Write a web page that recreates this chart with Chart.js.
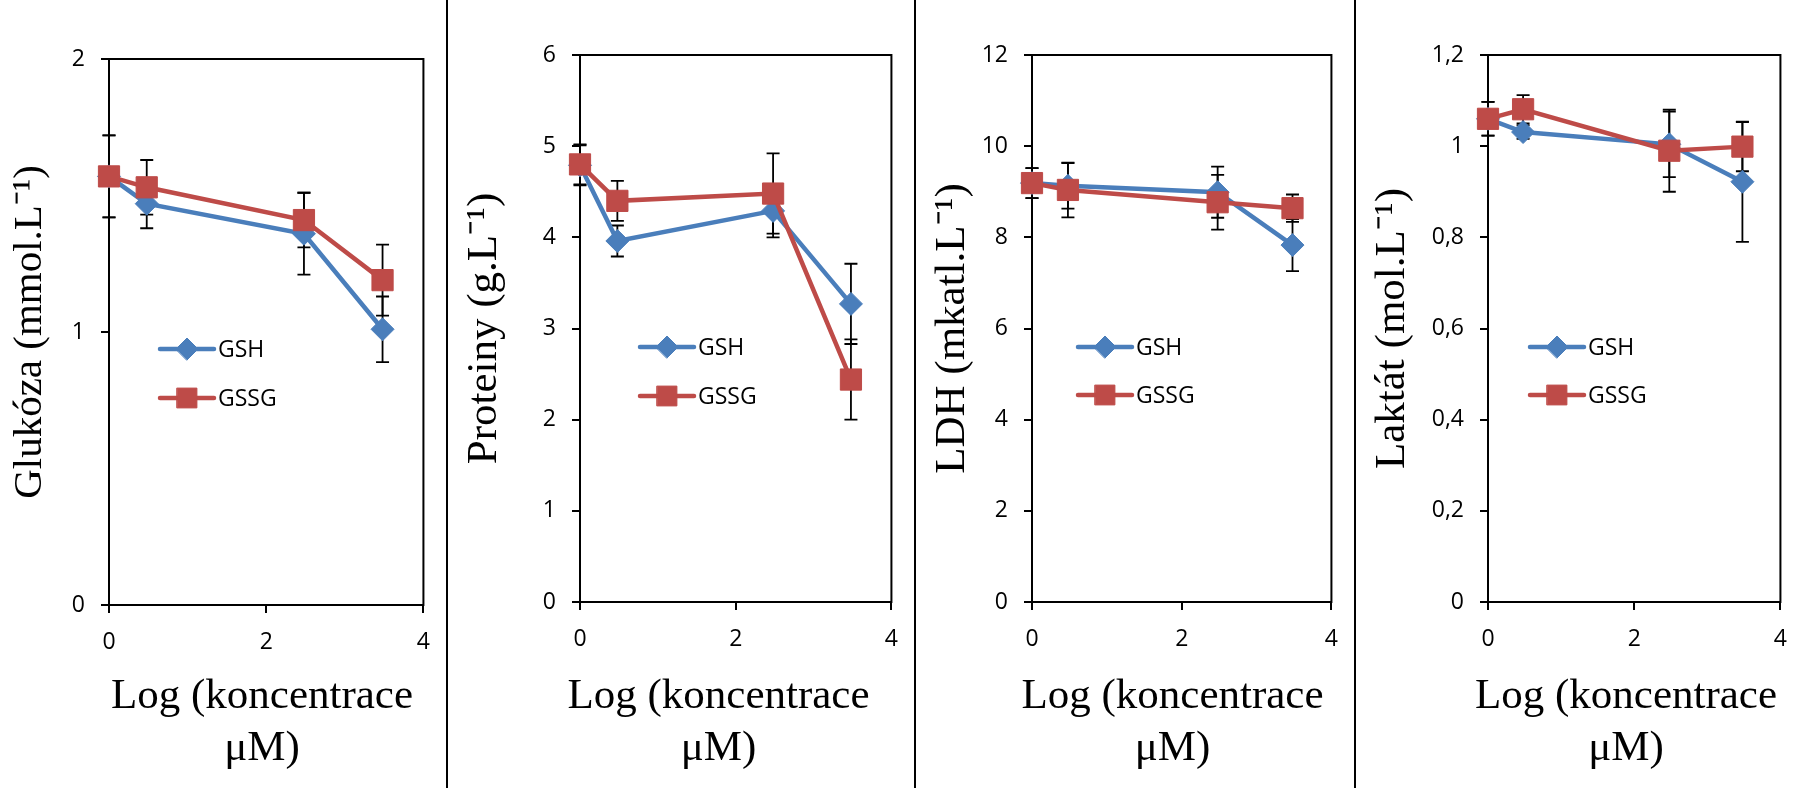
<!DOCTYPE html>
<html><head><meta charset="utf-8">
<script src="https://cdn.jsdelivr.net/npm/chart.js@4/dist/chart.umd.min.js"></script>
<style>
html,body{margin:0;padding:0;background:#fff;}
body{width:1803px;height:788px;position:relative;overflow:hidden;}
.panel{position:absolute;top:0;height:788px;}
.panel canvas{display:block;}
.sep{position:absolute;top:0;width:2px;height:788px;background:#000;}
</style></head><body>
<div class="panel" style="left:0px;width:446px"><canvas id="c1" width="446" height="788"></canvas></div>
<div class="panel" style="left:448px;width:466px"><canvas id="c2" width="466" height="788"></canvas></div>
<div class="panel" style="left:916px;width:438px"><canvas id="c3" width="438" height="788"></canvas></div>
<div class="panel" style="left:1356px;width:447px"><canvas id="c4" width="447" height="788"></canvas></div>
<div class="sep" style="left:446px"></div>
<div class="sep" style="left:914px"></div>
<div class="sep" style="left:1354px"></div>
<script>
// ---- data ----
const logConc = [0, 0.48, 2.48, 3.48];
const xTicks = [0, 2, 4];
const xTickLabels = ['0', '2', '4'];
const seriesNames = ['GSH', 'GSSG'];
const xTitleLines = ['Log (koncentrace', 'μM)'];

const glukozaGSH = [1.57, 1.47, 1.36, 1.01];
const glukozaGSHErr = [0.15, 0.09, 0.15, 0.12];
const glukozaGSSG = [1.57, 1.53, 1.41, 1.19];
const glukozaGSSGErr = [0.15, 0.10, 0.10, 0.13];
const glukozaTicks = [0, 1, 2];
const glukozaTickLabels = ['0', '1', '2'];

const proteinyGSH = [4.79, 3.96, 4.29, 3.27];
const proteinyGSHErr = [0.22, 0.17, 0.29, 0.44];
const proteinyGSSG = [4.80, 4.40, 4.48, 2.44];
const proteinyGSSGErr = [0.22, 0.22, 0.44, 0.44];
const proteinyTicks = [0, 1, 2, 3, 4, 5, 6];
const proteinyTickLabels = ['0', '1', '2', '3', '4', '5', '6'];

const ldhGSH = [9.19, 9.13, 8.99, 7.83];
const ldhGSHErr = [0.33, 0.50, 0.56, 0.57];
const ldhGSSG = [9.19, 9.04, 8.77, 8.64];
const ldhGSSGErr = [0.33, 0.60, 0.60, 0.30];
const ldhTicks = [0, 2, 4, 6, 8, 10, 12];
const ldhTickLabels = ['0', '2', '4', '6', '8', '10', '12'];

const laktatGSH = [1.06, 1.031, 1.004, 0.922];
const laktatGSHErr = [0.037, 0.015, 0.072, 0.132];
const laktatGSSG = [1.06, 1.081, 0.99, 0.999];
const laktatGSSGErr = [0.037, 0.031, 0.09, 0.054];
const laktatTicks = [0, 0.2, 0.4, 0.6, 0.8, 1, 1.2];
const laktatTickLabels = ['0', '0,2', '0,4', '0,6', '0,8', '1', '1,2'];

const yTitles = ['Glukóza (mmol.L\u207B\u00B9)', 'Proteiny (g.L\u207B\u00B9)', 'LDH (mkatl.L\u207B\u00B9)', 'Laktát (mol.L\u207B\u00B9)'];

// ---- styles / layout ----
const BLUE = '#4A7EBB';
const RED = '#BE4B48';
const SANS = 'Open Sans';
const TICK_FONT = {family: SANS, size: 23};
const TITLE_FONT_FAMILY = 'Liberation Serif';

const panels = [
  {id:'c1', w:446, plot:{left:109, top:59, right:427, bottom:605}, yTitle:yTitles[0], yTitlePad:5.5, yTitleSize:41,
   gsh:glukozaGSH, gshErr:glukozaGSHErr, gssg:glukozaGSSG, gssgErr:glukozaGSSGErr,
   ticks:glukozaTicks, tickLabels:glukozaTickLabels, legend:{x:51, y:290, gap:49}, xTitleX:262},
  {id:'c2', w:466, plot:{left:132, top:55, right:450, bottom:602}, yTitle:yTitles[1], yTitlePad:10.7, yTitleSize:43,
   gsh:proteinyGSH, gshErr:proteinyGSHErr, gssg:proteinyGSSG, gssgErr:proteinyGSSGErr,
   ticks:proteinyTicks, tickLabels:proteinyTickLabels, legend:{x:60, y:292, gap:49}, xTitleX:270.5},
  {id:'c3', w:438, plot:{left:116, top:55, right:420, bottom:602}, yTitle:yTitles[2], yTitlePad:10.7, yTitleSize:43,
   gsh:ldhGSH, gshErr:ldhGSHErr, gssg:ldhGSSG, gssgErr:ldhGSSGErr,
   ticks:ldhTicks, tickLabels:ldhTickLabels, legend:{x:46, y:292, gap:48}, xTitleX:256.5},
  {id:'c4', w:447, plot:{left:132, top:55, right:429, bottom:602}, yTitle:yTitles[3], yTitlePad:10.7, yTitleSize:43,
   gsh:laktatGSH, gshErr:laktatGSHErr, gssg:laktatGSSG, gssgErr:laktatGSSGErr,
   ticks:laktatTicks, tickLabels:laktatTickLabels, legend:{x:42, y:292, gap:48}, xTitleX:270}
];

function markerPath(ctx, style, r, x, y) {
  ctx.beginPath();
  if (style === 'rectRot') {
    ctx.moveTo(x - r, y); ctx.lineTo(x, y - r); ctx.lineTo(x + r, y); ctx.lineTo(x, y + r);
  } else {
    const s = r * Math.SQRT1_2;
    ctx.rect(x - s, y - s, 2 * s, 2 * s);
  }
  ctx.closePath();
}

const framePlugin = {
  id: 'frame',
  beforeDatasetsDraw(chart) {
    const {ctx, chartArea: a} = chart;
    ctx.save();
    ctx.strokeStyle = '#000';
    ctx.lineWidth = 2;
    ctx.strokeRect(a.left, a.top, a.right - a.left, a.bottom - a.top);
    ctx.restore();
  }
};

const errorBarPlugin = {
  id: 'errorBars',
  beforeDatasetsDraw(chart) {
    const {ctx} = chart;
    const xs = chart.scales.x, ys = chart.scales.y;
    ctx.save();
    ctx.strokeStyle = '#000';
    ctx.lineWidth = 1.8;
    chart.data.datasets.forEach(ds => {
      ds.data.forEach((pt, i) => {
        const e = ds.errors[i];
        const px = xs.getPixelForValue(pt.x);
        const y1 = ys.getPixelForValue(pt.y + e);
        const y2 = ys.getPixelForValue(pt.y - e);
        ctx.beginPath();
        ctx.moveTo(px, y1); ctx.lineTo(px, y2);
        ctx.moveTo(px - 6.5, y1); ctx.lineTo(px + 6.5, y1);
        ctx.moveTo(px - 6.5, y2); ctx.lineTo(px + 6.5, y2);
        ctx.stroke();
      });
    });
    ctx.restore();
  }
};

const legendPlugin = {
  id: 'inlineLegend',
  afterDatasetsDraw(chart, args, opts) {
    const {ctx, chartArea: a} = chart;
    const L = opts.pos;
    ctx.save();
    chart.data.datasets.forEach((ds, i) => {
      const x0 = a.left + L.x, y = a.top + L.y + i * L.gap;
      ctx.strokeStyle = ds.borderColor;
      ctx.lineWidth = 4.5;
      ctx.lineCap = 'round';
      ctx.beginPath(); ctx.moveTo(x0, y); ctx.lineTo(x0 + 54, y); ctx.stroke();
      ctx.fillStyle = ds.backgroundColor;
      ctx.lineWidth = 1;
      markerPath(ctx, ds.pointStyle, ds.pointStyle === 'rectRot' ? 11 : 14, x0 + 27, y);
      ctx.fill(); ctx.stroke();
      ctx.fillStyle = '#000';
      ctx.font = '23px "' + SANS + '"';
      ctx.textBaseline = 'middle';
      ctx.textAlign = 'left';
      ctx.fillText(ds.label, x0 + 58, y + 1);
    });
    ctx.restore();
  }
};

const xTitlePlugin = {
  id: 'xTitle',
  afterDraw(chart, args, opts) {
    const {ctx} = chart;
    ctx.save();
    ctx.fillStyle = '#000';
    ctx.font = '43px "' + TITLE_FONT_FAMILY + '"';
    ctx.textAlign = 'center';
    ctx.textBaseline = 'alphabetic';
    opts.lines.forEach((t, i) => ctx.fillText(t, opts.x, 708 + i * 52));
    ctx.restore();
  }
};

function makeChart(p) {
  const mk = (vals) => logConc.map((x, i) => ({x: x, y: vals[i]}));
  const datasets = [
    {label: seriesNames[0], data: mk(p.gsh), errors: p.gshErr, borderColor: BLUE, backgroundColor: BLUE,
     pointStyle: 'rectRot', pointRadius: 11.5, pointBorderWidth: 1, pointBorderColor: BLUE, pointBackgroundColor: BLUE,
     borderWidth: 4.5, order: 2, clip: false, tension: 0},
    {label: seriesNames[1], data: mk(p.gssg), errors: p.gssgErr, borderColor: RED, backgroundColor: RED,
     pointStyle: 'rect', pointRadius: 15, pointBorderWidth: 1, pointBorderColor: RED, pointBackgroundColor: RED,
     borderWidth: 4.5, order: 1, clip: false, tension: 0}
  ];
  new Chart(document.getElementById(p.id), {
    type: 'line',
    data: {datasets},
    options: {
      responsive: false, animation: false, devicePixelRatio: 1,
      events: [],
      layout: {padding: {left: 0, top: p.plot.top, right: p.w - p.plot.right, bottom: 0}},
      plugins: {
        legend: {display: false}, tooltip: {enabled: false},
        inlineLegend: {pos: p.legend},
        xTitle: {lines: xTitleLines, x: p.xTitleX}
      },
      scales: {
        x: {
          type: 'linear', min: 0, max: 4,
          afterBuildTicks: s => { s.ticks = xTicks.map(v => ({value: v})); },
          ticks: {font: TICK_FONT, color: '#000', padding: 16, maxRotation: 0, callback: (v, i) => xTickLabels[i]},
          grid: {drawOnChartArea: false, drawTicks: true, tickLength: 8, color: '#000', lineWidth: 2},
          border: {display: false},
          afterFit: s => { s.height = 788 - p.plot.bottom; }
        },
        y: {
          type: 'linear', min: p.ticks[0], max: p.ticks[p.ticks.length - 1],
          afterBuildTicks: s => { s.ticks = p.ticks.map(v => ({value: v})); },
          ticks: {font: TICK_FONT, color: '#000', padding: 16, callback: (v, i) => p.tickLabels[i]},
          grid: {drawOnChartArea: false, drawTicks: true, tickLength: 8, color: '#000', lineWidth: 2},
          border: {display: false},
          title: {display: true, text: p.yTitle, color: '#000',
                  font: {family: TITLE_FONT_FAMILY, size: p.yTitleSize, lineHeight: 1.2},
                  padding: {top: p.yTitlePad, bottom: 0}},
          afterFit: s => { s.width = p.plot.left; }
        }
      }
    },
    plugins: [framePlugin, errorBarPlugin, legendPlugin, xTitlePlugin]
  });
}
panels.forEach(makeChart);
</script>
</body></html>
